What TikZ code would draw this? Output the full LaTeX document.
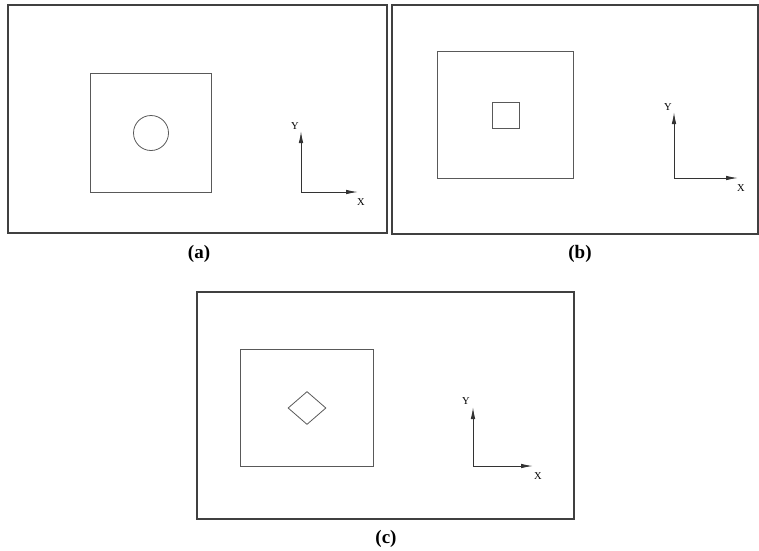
\documentclass[tikz,border=0pt]{standalone}
\usepackage{fontspec}
\setmainfont{Liberation Serif}
\usetikzlibrary{shapes, arrows.meta, positioning}

\begin{document}
\begin{tikzpicture}[
		x=1pt, y=-1pt,
		frame/.style={rectangle, draw=black!75, line width=1.3pt, inner sep=0pt},
		plate/.style={rectangle, draw=black!65, line width=0.8pt, inner sep=0pt},
		hole/.style={draw=black!65, line width=0.8pt, inner sep=0pt},
		axis/.style={-{Latex[length=12pt, width=4.5pt]}, draw=black!80, line width=1pt},
		axlabel/.style={font=\fontsize{10.5}{12}\selectfont, inner sep=0pt},
		caption/.style={font=\fontsize{19}{22}\selectfont\bfseries, inner sep=0pt}
		]
		\useasboundingbox (0,0) rectangle (759,550);
		
		% Panel (a)
		\node[frame, minimum width=379pt, minimum height=228pt] (frameA) at (197.5,119) {};
		\node[plate, minimum width=121pt, minimum height=119pt] (plateA) at (150.5,132.5) {};
		\node[hole, circle, minimum size=35pt] (holeA) at (151,133) {};
		\coordinate (originA) at (301,192);
		\coordinate (xtipA) at (358,192);
		\coordinate (ytipA) at (301,131);
		\draw[axis] (originA) -- (xtipA);
		\draw[axis] (originA) -- (ytipA);
		\node[axlabel] (ylabelA) at (295,126) {Y};
		\node[axlabel] (xlabelA) at (361,202) {X};
		\node[caption] (capA) at (199,254) {(a)};
		
		% Panel (b)
		\node[frame, minimum width=366pt, minimum height=229pt] (frameB) at (575,119.5) {};
		\node[plate, minimum width=136pt, minimum height=127pt] (plateB) at (505,114.5) {};
		\node[hole, rectangle, minimum width=27pt, minimum height=26pt] (holeB) at (505.5,115) {};
		\coordinate (originB) at (674,178);
		\coordinate (xtipB) at (738,178);
		\coordinate (ytipB) at (674,112);
		\draw[axis] (originB) -- (xtipB);
		\draw[axis] (originB) -- (ytipB);
		\node[axlabel] (ylabelB) at (668,107) {Y};
		\node[axlabel] (xlabelB) at (741,188) {X};
		\node[caption] (capB) at (580,254) {(b)};
		
		% Panel (c)
		\node[frame, minimum width=377pt, minimum height=227pt] (frameC) at (385.5,405.5) {};
		\node[plate, minimum width=133pt, minimum height=117pt] (plateC) at (306.5,407.5) {};
		\node[hole, diamond, minimum width=38pt, minimum height=33pt] (holeC) at (307,408) {};
		\coordinate (originC) at (473,466);
		\coordinate (xtipC) at (533,466);
		\coordinate (ytipC) at (473,407);
		\draw[axis] (originC) -- (xtipC);
		\draw[axis] (originC) -- (ytipC);
		\node[axlabel] (ylabelC) at (466,401) {Y};
		\node[axlabel] (xlabelC) at (538,476) {X};
		\node[caption] (capC) at (386,539) {(c)};
	\end{tikzpicture}
\end{document}
